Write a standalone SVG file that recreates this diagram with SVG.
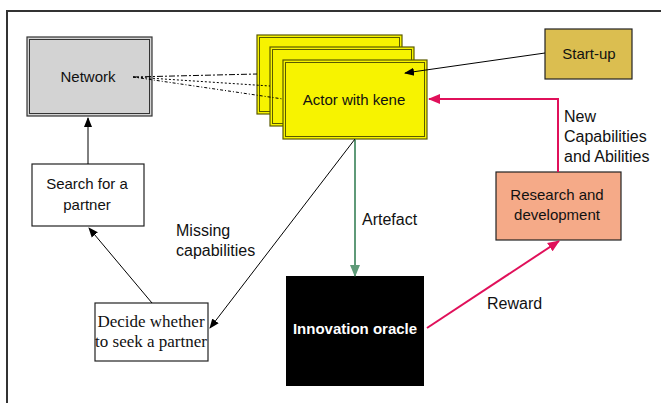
<svg xmlns="http://www.w3.org/2000/svg" width="661" height="403" viewBox="0 0 661 403">
  <defs>
    <marker id="ah-black" markerWidth="10" markerHeight="10" refX="9" refY="5" orient="auto" markerUnits="userSpaceOnUse">
      <path d="M0,1 L10,5 L0,9 z" fill="#000"/>
    </marker>
    <marker id="ah-pink" markerWidth="12" markerHeight="12" refX="11" refY="6" orient="auto" markerUnits="userSpaceOnUse">
      <path d="M0,1 L12,6 L0,11 z" fill="#e0105a"/>
    </marker>
    <marker id="ah-green" markerWidth="12" markerHeight="12" refX="11" refY="6" orient="auto" markerUnits="userSpaceOnUse">
      <path d="M0,1 L12,6 L0,11 z" fill="#5f9a78"/>
    </marker>
    <style>
      .frame { fill: none; stroke: #333; stroke-width: 2; }
      .box { stroke: #222; stroke-width: 1.2; }
      .thin { font-family: "Liberation Sans", Arial, sans-serif; font-size: 15px; fill: #111; }
      .lbl { font-family: "Liberation Sans", Arial, sans-serif; font-size: 16px; fill: #111; }
      .serif { font-family: "Liberation Serif", "Times New Roman", serif; font-size: 17px; fill: #111; }
      .actor { fill: #f7f300; stroke: #5a5a00; stroke-width: 1.2; }
      .actor-in { fill: none; stroke: #5a5a00; stroke-width: 1; }
      .link { fill: none; stroke: #000; stroke-width: 1; }
      .pink { fill: none; stroke: #e0105a; stroke-width: 2; }
      .green { fill: none; stroke: #5f9a78; stroke-width: 2; }
    </style>
  </defs>

  <rect width="661" height="403" fill="#fff"/>
  <!-- outer frame, open to the right and bottom -->
  <path class="frame" d="M7,403 L7,11 L661,11"/>

  <g id="network">
    <rect x="27" y="37" width="125" height="79" fill="#d3d3d3" stroke="#333" stroke-width="1.2"/>
    <rect x="29.5" y="39.5" width="120" height="74" fill="none" stroke="#333" stroke-width="1"/>
    <text class="thin" x="88" y="82" text-anchor="middle" font-size="16">Network</text>
  </g>

  <g id="actor">
    <rect class="actor" x="257" y="35" width="145" height="79"/>
    <rect class="actor-in" x="259.5" y="37.5" width="140" height="74"/>
    <rect class="actor" x="270" y="47" width="144" height="79"/>
    <rect class="actor-in" x="272.5" y="49.5" width="139" height="74"/>
    <rect class="actor" x="283" y="60" width="144" height="79"/>
    <rect class="actor-in" x="285.5" y="62.5" width="139" height="74"/>
    <text class="thin" x="354" y="105" text-anchor="middle" font-size="16">Actor with kene</text>
  </g>

  <g id="startup">
    <rect class="box" x="545" y="29" width="87" height="50" fill="#dbbe50"/>
    <text class="thin" x="589" y="59" text-anchor="middle" font-size="16">Start-up</text>
  </g>

  <g id="research">
    <rect class="box" x="496" y="172" width="125" height="68" fill="#f5aa88"/>
    <text class="thin" x="557" y="200" text-anchor="middle">Research and</text>
    <text class="thin" x="557" y="220" text-anchor="middle">development</text>
  </g>

  <g id="search">
    <rect class="box" x="32" y="164" width="112" height="62" fill="#fff"/>
    <text class="thin" x="87" y="189" text-anchor="middle">Search for a</text>
    <text class="thin" x="87" y="210" text-anchor="middle">partner</text>
  </g>

  <g id="decide">
    <rect class="box" x="95" y="303" width="113" height="58" fill="#fff"/>
    <text class="serif" x="151" y="327" text-anchor="middle">Decide whether</text>
    <text class="serif" x="151" y="347" text-anchor="middle">to seek a partner</text>
  </g>

  <g id="oracle">
    <rect x="286" y="276" width="138" height="110" fill="#000"/>
    <text x="355" y="334" text-anchor="middle" font-family="'Liberation Sans', Arial, sans-serif" font-size="15" fill="#fff" font-weight="bold">Innovation oracle</text>
  </g>

  <g id="connectors">
    <!-- dotted ties between network and actor stack -->
    <path class="link" d="M133,77 L257,74" stroke-dasharray="6,2,2,2"/>
    <path class="link" d="M133,77 L270,86" stroke-dasharray="2,2"/>
    <path class="link" d="M133,77 L283,99" stroke-dasharray="3,2,1,2"/>

    <path class="link" d="M545,53 L405,73" marker-end="url(#ah-black)"/>
    <path class="pink" d="M558,172 L558,99 L429,99" marker-end="url(#ah-pink)"/>
    <path class="green" d="M355,139 L355,276" marker-end="url(#ah-green)"/>
    <path class="pink" d="M427,328 L559,241" marker-end="url(#ah-pink)"/>
    <path class="link" d="M355,139 L210,328" marker-end="url(#ah-black)"/>
    <path class="link" d="M152,303 L89,228" marker-end="url(#ah-black)"/>
    <path class="link" d="M88,164 L88,118" marker-end="url(#ah-black)"/>
  </g>

  <g id="labels">
    <text class="lbl" x="564" y="122">New</text>
    <text class="lbl" x="564" y="142">Capabilities</text>
    <text class="lbl" x="564" y="162">and Abilities</text>
    <text class="lbl" x="362" y="225">Artefact</text>
    <text class="lbl" x="176" y="236">Missing</text>
    <text class="lbl" x="176" y="256">capabilities</text>
    <text class="lbl" x="487" y="309">Reward</text>
  </g>
</svg>
